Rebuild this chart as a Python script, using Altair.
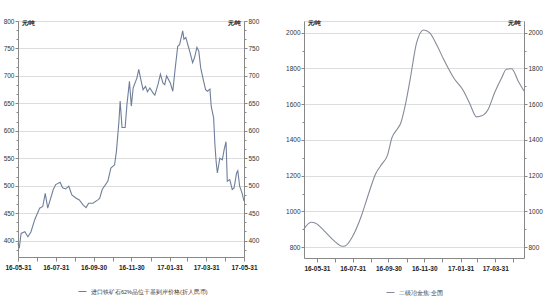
import altair as alt
import pandas as pd

# ---- Left panel: imported iron ore price (yuan/ton) ----
ore_dates = [
    "2016-05-31", "2016-06-02", "2016-06-05", "2016-06-11", "2016-06-16", "2016-06-21",
    "2016-06-27", "2016-07-05", "2016-07-10", "2016-07-14", "2016-07-18", "2016-07-22",
    "2016-07-27", "2016-07-31", "2016-08-07", "2016-08-11", "2016-08-16", "2016-08-21",
    "2016-08-26", "2016-09-02", "2016-09-07", "2016-09-13", "2016-09-18", "2016-09-22",
    "2016-09-29", "2016-10-07", "2016-10-10", "2016-10-14", "2016-10-23", "2016-10-28",
    "2016-11-03", "2016-11-06", "2016-11-10", "2016-11-12", "2016-11-15", "2016-11-20",
    "2016-11-23", "2016-11-27", "2016-11-30", "2016-12-03", "2016-12-07", "2016-12-09",
    "2016-12-12", "2016-12-16", "2016-12-19", "2016-12-23", "2016-12-26", "2016-12-30",
    "2017-01-04", "2017-01-07", "2017-01-12", "2017-01-16", "2017-01-20", "2017-01-23",
    "2017-01-26", "2017-02-01", "2017-02-05", "2017-02-09", "2017-02-13", "2017-02-16",
    "2017-02-18", "2017-02-21", "2017-02-23", "2017-02-26", "2017-03-02", "2017-03-05",
    "2017-03-09", "2017-03-12", "2017-03-16", "2017-03-19", "2017-03-22", "2017-03-26",
    "2017-03-30", "2017-04-02", "2017-04-06", "2017-04-08", "2017-04-12", "2017-04-14",
    "2017-04-16", "2017-04-18", "2017-04-22", "2017-04-26", "2017-04-29", "2017-05-02",
    "2017-05-04", "2017-05-08", "2017-05-12", "2017-05-15", "2017-05-19", "2017-05-21",
    "2017-05-24", "2017-05-28", "2017-05-31",
]
ore_values = [
    395, 386, 413, 416, 407, 416,
    438, 459, 462, 486, 459, 474,
    493, 502, 506, 496, 494, 499,
    483, 477, 474, 465, 460, 468,
    468, 474, 477, 493, 508, 532,
    538, 563, 617, 654, 606, 606,
    648, 690, 645, 678, 690, 696,
    712, 690, 675, 681, 671, 678,
    669, 665, 684, 703, 687, 684,
    700, 687, 672, 715, 754, 757,
    767, 782, 767, 770, 754, 742,
    724, 733, 752, 745, 715, 694,
    675, 672, 676, 645, 623, 575,
    544, 523, 550, 547, 566, 580,
    508, 511, 493, 496, 523, 527,
    499, 486, 472,
]
ore_label = "进口铁矿石62%品位干基到岸价格(折人民币)"

# ---- Right panel: metallurgical coke grade II, national (yuan/ton) ----
coke_dates = [
    "2016-05-09", "2016-05-21", "2016-05-29", "2016-06-12", "2016-06-29", "2016-07-13",
    "2016-07-19", "2016-07-30", "2016-08-14", "2016-08-27", "2016-09-08", "2016-09-19",
    "2016-09-28", "2016-10-06", "2016-10-15", "2016-10-21", "2016-10-29", "2016-11-06",
    "2016-11-17", "2016-11-29", "2016-12-09", "2016-12-22", "2017-01-02", "2017-01-19",
    "2017-02-05", "2017-02-16", "2017-02-27", "2017-03-08", "2017-03-19", "2017-03-30",
    "2017-04-11", "2017-04-19", "2017-04-28", "2017-05-09", "2017-05-19",
]
coke_values = [
    903, 940, 934, 893, 837, 806,
    809, 856, 968, 1098, 1210, 1266,
    1312, 1414, 1461, 1495, 1600, 1740,
    1944, 2015, 2000, 1926, 1851, 1748,
    1674, 1600, 1529, 1535, 1572, 1665,
    1748, 1795, 1798, 1730, 1674,
]
coke_label = "二级冶金焦:全国"

unit = "元/吨"

month_ends = [
    (2016, 5, 31), (2016, 6, 30), (2016, 7, 31), (2016, 8, 31), (2016, 9, 30),
    (2016, 10, 31), (2016, 11, 30), (2016, 12, 31), (2017, 1, 31), (2017, 2, 28),
    (2017, 3, 31), (2017, 4, 30), (2017, 5, 31),
]

FONT = "Liberation Sans Narrow, DejaVu Sans Condensed, Arial Narrow, sans-serif"


def dt(y, m, d):
    return alt.DateTime(year=y, month=m, date=d, utc=True)


def panel(dates, values, label, color, y_dom, major, n_sub, x_dom, ticks, width, height,
          interp, leg_x, leg_y):
    df = pd.DataFrame({"date": dates, "value": values, "series": label})
    step = major / n_sub
    yvals = []
    v = y_dom[0] - (y_dom[0] % step) + step if y_dom[0] % step else y_dom[0]
    while v <= y_dom[1] + 1e-6:
        yvals.append(round(v, 4))
        v += step
    is_major = f"abs(datum.value - round(datum.value/{major})*{major}) < 0.01"
    xaxis = alt.Axis(
        values=[dt(*t) for t in ticks],
        labelExpr="utcmonth(datum.value) % 2 == 0 ? utcFormat(datum.value, '%y-%m-%d') : ''",
        title=None, grid=False, tickSize=4, labelPadding=3, labelFontSize=6.5,
        labelFontWeight="bold", labelColor="#222", labelFlush=False,
    )
    x = alt.X("date:T", scale=alt.Scale(type="utc", domain=[dt(*x_dom[0]), dt(*x_dom[1])]), axis=xaxis)
    yscale = alt.Scale(domain=y_dom, nice=False, zero=False)

    def yaxis(orient):
        return alt.Axis(
            orient=orient, values=yvals,
            labelExpr=f"{is_major} ? format(datum.value, 'd') : ''",
            grid=(orient == "left"),
            gridOpacity={"condition": {"test": is_major, "value": 1}, "value": 0},
            tickSize={"condition": {"test": is_major, "value": 3}, "value": 2},
            title=unit, titleAngle=0, titleFontSize=5.5, titleFontWeight="bold",
            titleX=(3 if orient == "left" else -3), titleY=1,
            titleAlign=("left" if orient == "left" else "right"), titleBaseline="middle",
            labelFontSize=6.5, labelPadding=1, labelColor="#333",
        )

    line = alt.Chart(df).mark_line(strokeWidth=1.1, interpolate=interp).encode(
        x=x,
        y=alt.Y("value:Q", scale=yscale, axis=yaxis("left")),
        color=alt.Color(
            "series:N", scale=alt.Scale(range=[color]),
            legend=alt.Legend(
                orient="none", legendX=leg_x, legendY=leg_y, title=None,
                symbolType="stroke", symbolSize=64,
                symbolStrokeWidth=1, labelFontSize=5.5, labelLimit=400,
                labelColor="#333",
            ),
        ),
    )
    right = alt.Chart(df).mark_line(opacity=0).encode(
        x=x,
        y=alt.Y("value:Q", scale=yscale, axis=yaxis("right")),
    )
    return alt.layer(line, right).resolve_scale(y="independent").properties(width=width, height=height)


left = panel(ore_dates, ore_values, ore_label, "#6f7f9a", [370, 800], 50, 3,
             [(2016, 5, 31), (2017, 5, 31)], month_ends, 226, 236, "linear", 60, 266)
rightp = panel(coke_dates, coke_values, coke_label, "#858b99", [740, 2065], 200, 2,
               [(2016, 5, 9), (2017, 5, 19)], month_ends[:12], 220, 237, "monotone", 82, 267)

chart = alt.hconcat(left, rightp, spacing=25).resolve_scale(color="independent").resolve_legend(
    color="independent"
).properties(
    padding={"left": 2, "top": 17, "right": 0, "bottom": 0}
).configure_view(stroke=None).configure_axis(
    domainColor="#444", tickColor="#444", gridColor="#e8e8e8", labelFont=FONT, titleFont=FONT,
).configure_legend(labelFont=FONT).configure(background="white")

chart.save("out.html", embed_options={"renderer": "svg", "actions": False})
